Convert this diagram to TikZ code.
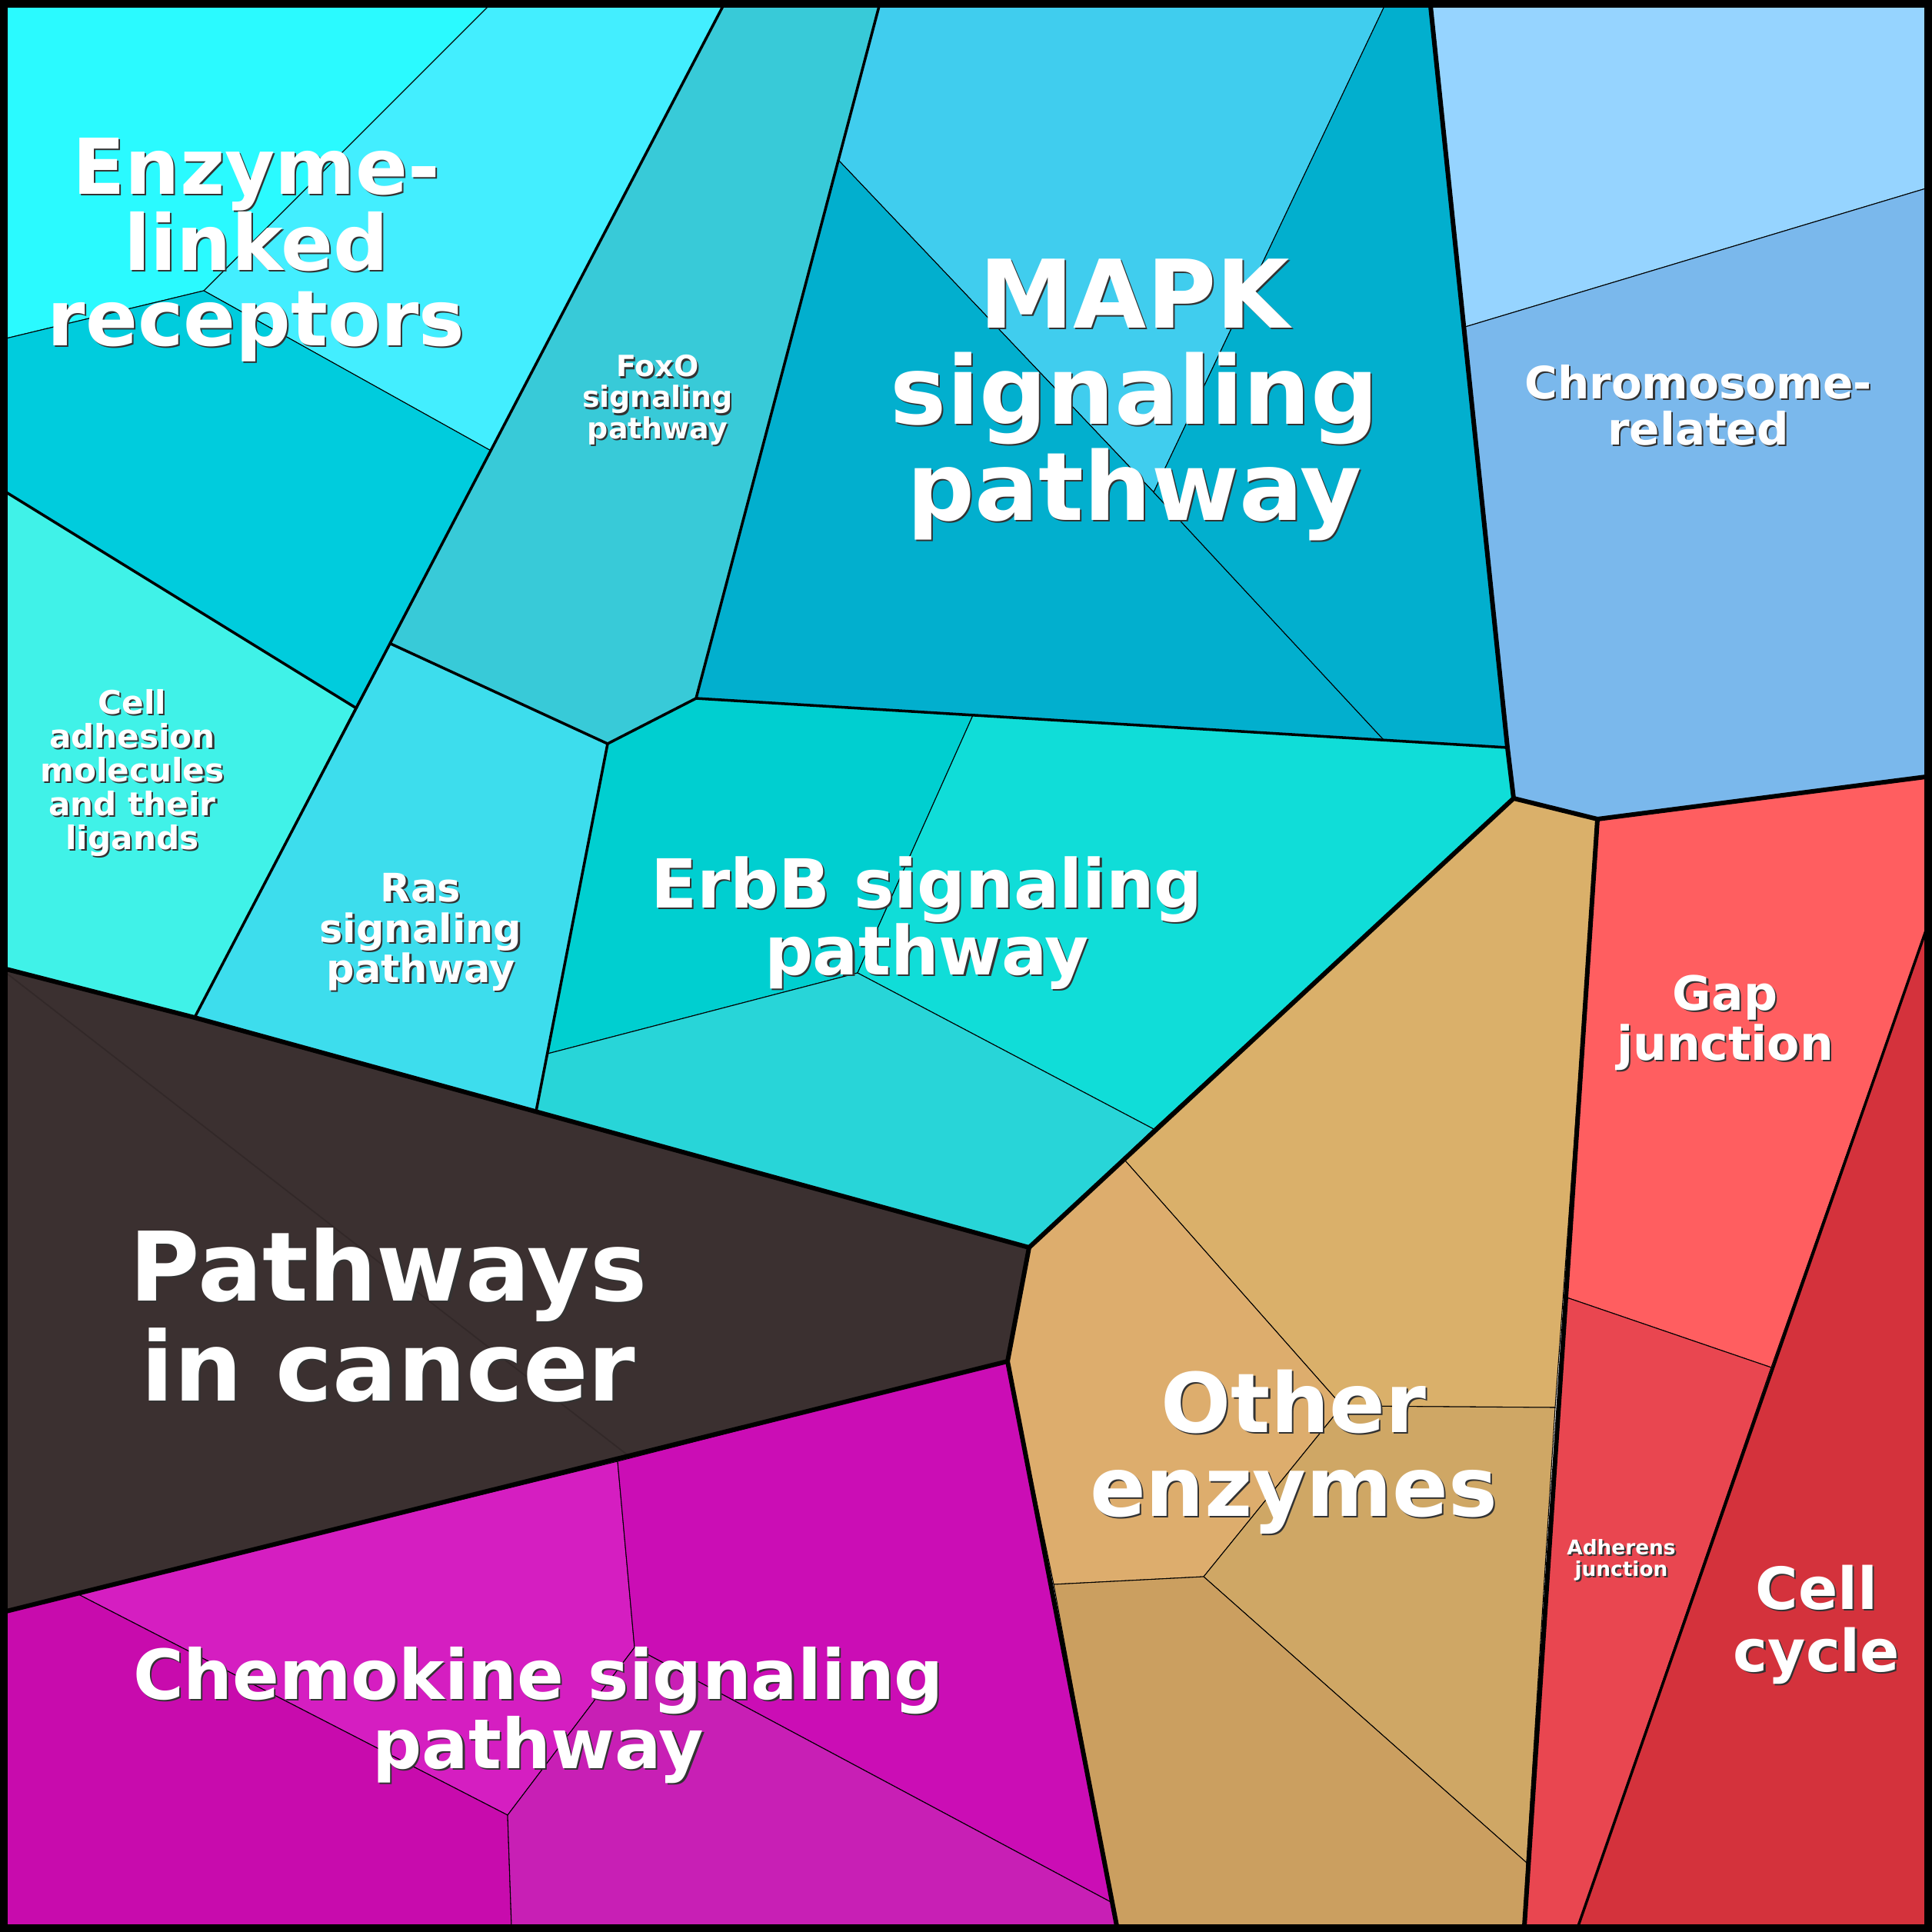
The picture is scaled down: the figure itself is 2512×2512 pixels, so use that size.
\documentclass[tikz,border=0pt]{standalone}
\usepackage{fontspec}
\setmainfont{DejaVu Sans}
\begin{document}
\begin{tikzpicture}
  [
    x=0.01cm, y=-0.01cm,
    cell/.style={draw=black, line width=0.3pt, line join=round},
    lv1/.style={draw=black, line width=1.7pt, line join=round},
    lv2/.style={draw=black, line width=1pt, line join=round},
    lab/.style={align=center, inner sep=0pt}
  ]
  \newcommand{\plabel}[5]{%
    \node [lab, text=black!80, font=\fontsize{#3}{#4}\bfseries] at ([xshift=0.6pt,yshift=-0.6pt]#1) {#5};
    \node [lab, text=white, font=\fontsize{#3}{#4}\bfseries] (#2) at (#1) {#5};}
  \useasboundingbox (0,0) rectangle (2512,2512);

  % enzyme-linked receptors
  \fill [cell, fill={rgb,255:red,42;green,250;blue,255}] (8,8) -- (635,8) -- (265,378) -- (8,440) -- cycle;
  \fill [cell, fill={rgb,255:red,67;green,238;blue,255}] (635,8) -- (940,8) -- (640,587) -- (265,378) -- cycle;
  \fill [cell, fill={rgb,255:red,0;green,204;blue,221}] (8,440) -- (265,378) -- (640,587) -- (462,920) -- (8,640) -- cycle;
  \fill [cell, fill={rgb,255:red,64;green,242;blue,232}] (8,640) -- (462,920) -- (253,1323) -- (8,1260) -- cycle;
  % foxo, ras
  \fill [cell, fill={rgb,255:red,56;green,202;blue,216}] (940,8) -- (1143,8) -- (905,908) -- (790,967) -- (508,837) -- cycle;
  \fill [cell, fill={rgb,255:red,61;green,221;blue,237}] (508,837) -- (790,967) -- (697,1445) -- (253,1323) -- cycle;
  % mapk
  \fill [cell, fill={rgb,255:red,64;green,205;blue,238}] (1143,8) -- (1800,8) -- (1500,640) -- (1090,208) -- cycle;
  \fill [cell, fill={rgb,255:red,2;green,175;blue,206}] (1090,208) -- (1500,640) -- (1800,963) -- (905,908) -- (1143,8) -- cycle;
  \fill [cell, fill={rgb,255:red,2;green,175;blue,206}] (1800,8) -- (1860,8) -- (1960,972) -- (1800,963) -- (1500,640) -- cycle;
  % erbb
  \fill [cell, fill={rgb,255:red,0;green,207;blue,208}] (905,908) -- (1265,930) -- (1115,1265) -- (712,1370) -- (790,967) -- cycle;
  \fill [cell, fill={rgb,255:red,16;green,221;blue,216}] (1265,930) -- (1960,972) -- (1968,1038) -- (1500,1468) -- (1115,1265) -- cycle;
  \fill [cell, fill={rgb,255:red,40;green,213;blue,216}] (712,1370) -- (1115,1265) -- (1500,1468) -- (1338,1622) -- (697,1445) -- cycle;
  % chromosome
  \fill [cell, fill={rgb,255:red,150;green,212;blue,255}] (1860,8) -- (2504,8) -- (2504,245) -- (1905,425) -- cycle;
  \fill [cell, fill={rgb,255:red,122;green,184;blue,236}] (1905,425) -- (2504,245) -- (2504,1010) -- (2077,1065) -- (1968,1038) -- (1960,972) -- cycle;
  % red group
  \fill [cell, fill={rgb,255:red,255;green,94;blue,96}] (2077,1065) -- (2504,1010) -- (2504,1210) -- (2303,1778) -- (2037,1687) -- cycle;
  \fill [cell, fill={rgb,255:red,233;green,70;blue,80}] (2037,1687) -- (2303,1778) -- (2052,2504) -- (1982,2504) -- cycle;
  \fill [cell, fill={rgb,255:red,212;green,50;blue,60}] (2504,1210) -- (2504,2504) -- (2052,2504) -- (2303,1778) -- cycle;
  % other enzymes
  \fill [cell, fill={rgb,255:red,218;green,176;blue,106}] (1968,1038) -- (2077,1065) -- (2022,1830) -- (1745,1828) -- (1462,1508) -- cycle;
  \fill [cell, fill={rgb,255:red,221;green,173;blue,109}] (1462,1508) -- (1745,1828) -- (1565,2050) -- (1370,2060) -- (1310,1770) -- (1338,1622) -- cycle;
  \fill [cell, fill={rgb,255:red,207;green,167;blue,101}] (1745,1828) -- (2022,1830) -- (1985,2422) -- (1565,2050) -- cycle;
  \fill [cell, fill={rgb,255:red,203;green,159;blue,96}] (1370,2060) -- (1565,2050) -- (1985,2422) -- (1982,2504) -- (1452,2504) -- cycle;
  % pathways in cancer
  \fill [cell, fill={rgb,255:red,59;green,48;blue,48}] (8,1260) -- (253,1323) -- (1338,1622) -- (1310,1770) -- (8,2095) -- cycle;
  \draw [draw={rgb,255:red,50;green,40;blue,40}, line width=0.5pt] (8,1265) -- (820,1895);
  % chemokine
  \fill [cell, fill={rgb,255:red,213;green,30;blue,193}] (100,2072) -- (803,1900) -- (825,2142) -- (660,2360) -- cycle;
  \fill [cell, fill={rgb,255:red,203;green,13;blue,181}] (803,1900) -- (1310,1770) -- (1448,2475) -- (825,2142) -- cycle;
  \fill [cell, fill={rgb,255:red,200;green,11;blue,173}] (8,2095) -- (100,2072) -- (660,2360) -- (665,2504) -- (8,2504) -- cycle;
  \fill [cell, fill={rgb,255:red,200;green,31;blue,181}] (660,2360) -- (825,2142) -- (1448,2475) -- (1452,2504) -- (665,2504) -- cycle;

  % group borders
  \draw [lv2] (940,8) -- (253,1323);
  \draw [lv2] (1143,8) -- (905,908) -- (1960,972);
  \draw [lv2] (905,908) -- (790,967) -- (697,1445);
  \draw [lv2] (790,967) -- (508,837);
  \draw [lv2] (8,640) -- (462,920);
  \draw [lv2] (2504,1210) -- (2052,2504);
  \draw [lv1] (8,1260) -- (253,1323) -- (1338,1622);
  \draw [lv1] (1338,1622) -- (1968,1038) -- (1960,972) -- (1860,8);
  \draw [lv1] (1968,1038) -- (2077,1065) -- (2504,1010);
  \draw [lv1] (2077,1065) -- (1982,2504);
  \draw [lv1] (1338,1622) -- (1310,1770) -- (1452,2504);
  \draw [lv1] (1310,1770) -- (8,2095);
  \draw [line width=2.8pt] (5,5) rectangle (2507,2507);

  % labels
  \plabel{333,325}{enz}{28.5pt}{28pt}{Enzyme-\\linked\\receptors}
  \plabel{855,520}{foxo}{10.8pt}{11.4pt}{FoxO\\signaling\\pathway}
  \plabel{1475,520}{mapk}{35pt}{35.6pt}{MAPK\\signaling\\pathway}
  \plabel{2208,527}{chrom}{16.5pt}{17pt}{Chromosome-\\related}
  \plabel{172,1005}{adh}{12pt}{12.5pt}{Cell\\adhesion\\molecules\\and their\\ligands}
  \plabel{547,1212}{ras}{14.5pt}{15pt}{Ras\\signaling\\pathway}
  \plabel{1205,1200}{erbb}{25pt}{24.5pt}{ErbB signaling\\pathway}
  \plabel{2243,1330}{gap}{17.5pt}{18.5pt}{Gap\\junction}
  \plabel{505,1710}{canc}{35.5pt}{37pt}{Pathways\\in cancer}
  \plabel{1682,1888}{oth}{30.5pt}{31pt}{Other\\enzymes}
  \plabel{2108,2028}{adj}{7.5pt}{8pt}{Adherens\\junction}
  \plabel{2362,2112}{cyc}{21.5pt}{23pt}{Cell\\cycle}
  \plabel{700,2230}{chem}{25.5pt}{25.6pt}{Chemokine signaling\\pathway}
\end{tikzpicture}
\end{document}
